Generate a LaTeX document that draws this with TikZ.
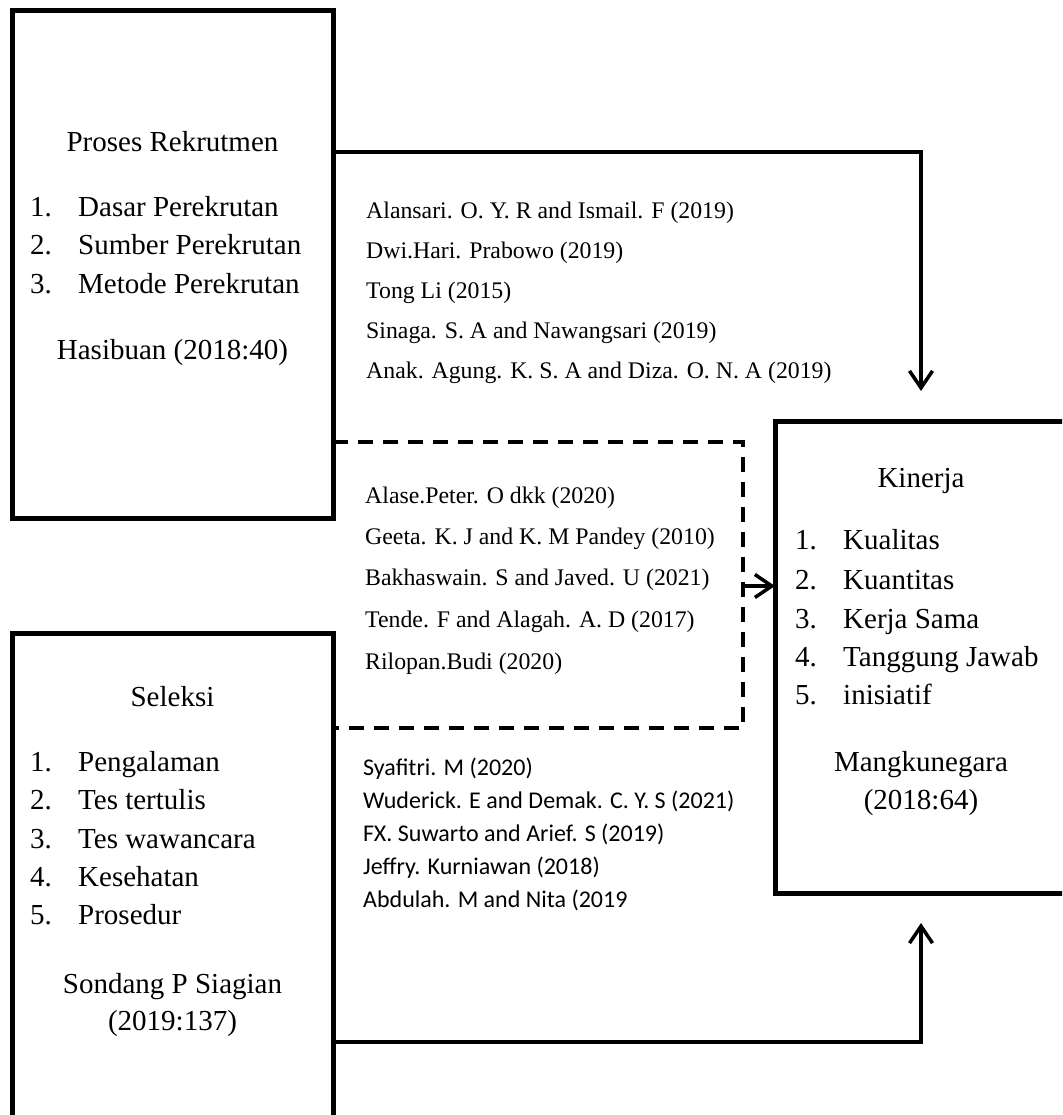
\documentclass[tikz,border=0pt]{standalone}
\usepackage{fontspec}
\setmainfont{Liberation Serif}
\newfontfamily\calibfont{Carlito}
\usetikzlibrary{arrows.meta}
\begin{document}
\begin{tikzpicture}[x=1pt,y=-1pt,
  boxn/.style={draw,line width=5pt,inner sep=0pt,outer sep=0pt},
  conn/.style={line width=3.5pt},
  dconn/.style={line width=3.5pt,dash pattern=on 15pt off 10pt},
  tipped/.style={-{Straight Barb[length=17pt,width=23pt]}},
  bt/.style={font=\fontsize{29}{35}\selectfont,inner sep=0pt,text height=20pt,text depth=7pt},
  bl/.style={bt,anchor=west},
  rt/.style={font=\fontsize{23.8}{28}\selectfont,inner sep=0pt,anchor=west,text height=16pt,text depth=5pt},
  rs/.style={font=\calibfont\fontsize{24}{28}\selectfont,inner sep=0pt,anchor=west,text height=16pt,text depth=5pt}
]
\useasboundingbox (0,0) rectangle (1062,1115);
\clip (0,0) rectangle (1062,1115);

% boxes
\node[boxn,minimum width=321pt,minimum height=507pt] (b1) at (172.5,264.5) {};
\node[boxn,minimum width=321pt,minimum height=520pt] (b2) at (172.5,893) {};
\node[boxn,minimum width=310pt,minimum height=472pt] (b3) at (930,657) {};

% box 1 text
\node[bt] (p1) at (172.5,145) {Proses Rekrutmen};
\node[bl] (p1n1) at (30,210) {1.};
\node[bl] (p1i1) at (78,210) {Dasar Perekrutan};
\node[bl] (p1n2) at (30,248) {2.};
\node[bl] (p1i2) at (78,248) {Sumber Perekrutan};
\node[bl] (p1n3) at (30,287) {3.};
\node[bl] (p1i3) at (78,287) {Metode Perekrutan};
\node[bt] (p1s) at (172.5,353) {Hasibuan (2018:40)};

% box 2 text
\node[bt] (p2) at (172.5,700) {Seleksi};
\node[bl] (p2n1) at (30,765) {1.};
\node[bl] (p2i1) at (78,765) {Pengalaman};
\node[bl] (p2n2) at (30,803) {2.};
\node[bl] (p2i2) at (78,803) {Tes tertulis};
\node[bl] (p2n3) at (30,842) {3.};
\node[bl] (p2i3) at (78,842) {Tes wawancara};
\node[bl] (p2n4) at (30,880) {4.};
\node[bl] (p2i4) at (78,880) {Kesehatan};
\node[bl] (p2n5) at (30,918) {5.};
\node[bl] (p2i5) at (78,918) {Prosedur};
\node[bt] (p2s) at (172.5,987) {Sondang P Siagian};
\node[bt] (p2y) at (172.5,1024) {(2019:137)};

% box 3 text
\node[bt] (p3) at (921,481) {Kinerja};
\node[bl] (p3n1) at (795,543) {1.};
\node[bl] (p3i1) at (843,543) {Kualitas};
\node[bl] (p3n2) at (795,583) {2.};
\node[bl] (p3i2) at (843,583) {Kuantitas};
\node[bl] (p3n3) at (795,622) {3.};
\node[bl] (p3i3) at (843,622) {Kerja Sama};
\node[bl] (p3n4) at (795,660) {4.};
\node[bl] (p3i4) at (843,660) {Tanggung Jawab};
\node[bl] (p3n5) at (795,698) {5.};
\node[bl] (p3i5) at (843,698) {inisiatif};
\node[bt] (p3s) at (921,765) {Mangkunegara};
\node[bt] (p3y) at (921,803) {(2018:64)};

% references group 1
\node[rt] (r11) at (366,213) {Alansari. O. Y. R and Ismail. F (2019)};
\node[rt] (r12) at (366,253) {Dwi.Hari. Prabowo (2019)};
\node[rt] (r13) at (366,293) {Tong Li (2015)};
\node[rt] (r14) at (366,333) {Sinaga. S. A and Nawangsari (2019)};
\node[rt] (r15) at (366,373) {Anak. Agung. K. S. A and Diza. O. N. A (2019)};

% references group 2
\node[rt] (r21) at (365,498) {Alase.Peter. O dkk (2020)};
\node[rt] (r22) at (365,539) {Geeta. K. J and K. M Pandey (2010)};
\node[rt] (r23) at (365,580) {Bakhaswain. S and Javed. U (2021)};
\node[rt] (r24) at (365,622) {Tende. F and Alagah. A. D (2017)};
\node[rt] (r25) at (365,664) {Rilopan.Budi (2020)};

% references group 3
\node[rs] (r31) at (363,770) {Syafitri. M (2020)};
\node[rs] (r32) at (363,803) {Wuderick. E and Demak. C. Y. S (2021)};
\node[rs] (r33) at (363,836) {FX. Suwarto and Arief. S (2019)};
\node[rs] (r34) at (363,869) {Jeffry. Kurniawan (2018)};
\node[rs] (r35) at (363,902) {Abdulah. M and Nita (2019};

% connectors
\coordinate (t1) at (921,391);
\draw[conn,tipped] (b1.east |- 0,152) -| (t1);

\coordinate (d1) at (743,728);
\draw[dconn] (b1.east |- 0,442) -| (d1) -- (b2.east |- d1);
\draw[conn,tipped] (d1 |- 0,586) -- (b3.west |- 0,586);

\coordinate (t3) at (921,923);
\draw[conn,tipped] (b2.east |- 0,1042) -| (t3);
\end{tikzpicture}
\end{document}
